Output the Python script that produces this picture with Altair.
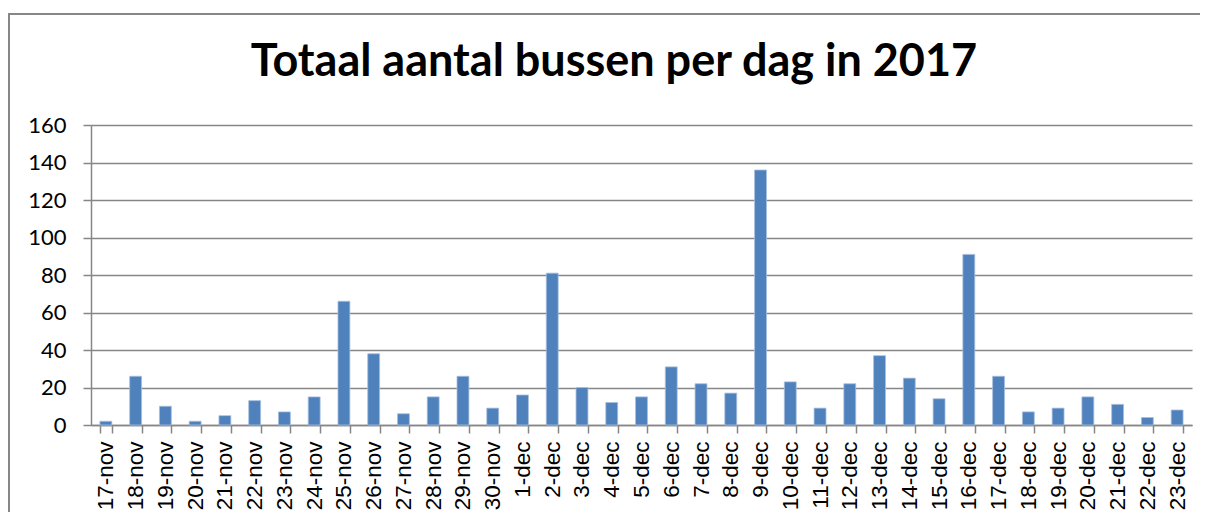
import altair as alt
import pandas as pd

days = ["17-nov", "18-nov", "19-nov", "20-nov", "21-nov", "22-nov", "23-nov", "24-nov",
        "25-nov", "26-nov", "27-nov", "28-nov", "29-nov", "30-nov", "1-dec", "2-dec",
        "3-dec", "4-dec", "5-dec", "6-dec", "7-dec", "8-dec", "9-dec", "10-dec",
        "11-dec", "12-dec", "13-dec", "14-dec", "15-dec", "16-dec", "17-dec", "18-dec",
        "19-dec", "20-dec", "21-dec", "22-dec", "23-dec"]
counts = [2, 26, 10, 2, 5, 13, 7, 15,
          66, 38, 6, 15, 26, 9, 16, 81,
          20, 12, 15, 31, 22, 17, 136, 23,
          9, 22, 37, 25, 14, 91, 26, 7,
          9, 15, 11, 4, 8]
y_ticks = [0, 20, 40, 60, 80, 100, 120, 140, 160]
title_text = "Totaal aantal bussen per dag in 2017"

df = pd.DataFrame({"dag": days, "bussen": counts})
one = pd.DataFrame({"k": [0]})

GRAY = "#868686"

bars = alt.Chart(df).mark_bar(color="#4F81BD", stroke="#A7BFDE", strokeWidth=0.8).encode(
    x=alt.X("dag:N", sort=days, title=None,
            scale=alt.Scale(paddingInner=0.6, paddingOuter=0.3),
            axis=alt.Axis(labelAngle=-90, labelFont="Liberation Sans", labelFontSize=22.5,
                          labelColor="black", tickBand="extent", tickSize=8,
                          tickColor=GRAY, tickWidth=1.5, domainColor=GRAY, domainWidth=1.5,
                          labelPadding=8, grid=False)),
    y=alt.Y("bussen:Q", title=None,
            scale=alt.Scale(domain=[0, 160], nice=False),
            axis=alt.Axis(values=y_ticks, grid=True, gridColor=GRAY, gridWidth=1.4,
                          tickSize=8, tickColor=GRAY, tickWidth=1.5,
                          domainColor=GRAY, domainWidth=1.5,
                          labelFont="Lato", labelFontSize=22, labelColor="black",
                          labelPadding=17)),
)

border_top = alt.Chart(one).mark_rule(stroke="#878787", strokeWidth=2).encode(
    x=alt.value(-83), x2=alt.value(1200), y=alt.value(-111)
)
border_left = alt.Chart(one).mark_rule(stroke="#878787", strokeWidth=2).encode(
    x=alt.value(-82), y=alt.value(-112), y2=alt.value(520)
)

title = alt.Chart(one).mark_text(
    text=title_text, font="Lato", fontSize=45, fontWeight="bold",
    align="center", baseline="alphabetic", color="black"
).encode(x=alt.value(523), y=alt.value(-49))

chart = alt.layer(border_top, border_left, bars, title).properties(
    width=1101, height=300,
    autosize=alt.AutoSizeParams(type="none"),
    padding={"left": 83, "top": 117, "right": 8, "bottom": 87},
    background="white",
).configure_view(stroke=None)

chart.save("out.html", embed_options={"renderer": "svg", "actions": False})
